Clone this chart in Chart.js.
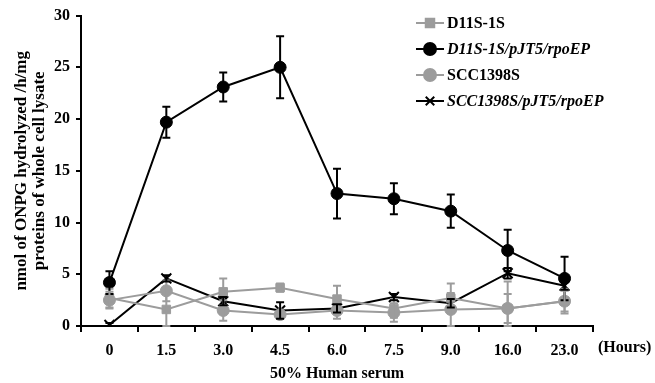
<!DOCTYPE html>
<html>
<head>
<meta charset="utf-8">
<script src="https://cdn.jsdelivr.net/npm/chart.js@4/dist/chart.umd.min.js"></script>
<style>
  html, body { margin: 0; padding: 0; background: #fff; }
  #wrap { width: 655px; height: 383px; }
</style>
</head>
<body>
<div id="wrap"><canvas id="chart" width="655" height="383"></canvas></div>
<script>
// Sampling times (hours) in 50% human serum
const hours = ['0', '1.5', '3.0', '4.5', '6.0', '7.5', '9.0', '16.0', '23.0'];
const yTicks = [0, 5, 10, 15, 20, 25, 30];

// nmol ONPG hydrolyzed /h/mg protein, with SD
const d11s = [2.7, 1.6, 3.3, 3.7, 2.6, 1.7, 2.7, 1.7, 2.4];
const d11sErr = [0.9, 1.6, 1.3, 0.4, 1.3, 0.9, 1.4, 2.6, 1.2];
const d11sRpoE = [4.2, 19.7, 23.1, 25.0, 12.8, 12.3, 11.1, 7.3, 4.6];
const d11sRpoEErr = [1.1, 1.5, 1.4, 3.0, 2.4, 1.5, 1.6, 2.0, 2.1];
const scc = [2.5, 3.4, 1.5, 1.1, 1.5, 1.3, 1.6, 1.7, 2.4];
const sccErr = [0.8, 1.0, 1.0, 0.3, 0.8, 0.9, 1.6, 1.4, 1.0];
const sccRpoE = [0.1, 4.6, 2.4, 1.5, 1.7, 2.8, 2.2, 5.1, 3.9];
const sccRpoEErr = [0.2, 0.3, 0.4, 0.8, 0.4, 0.3, 0.4, 0.5, 0.4];

const GRAY = '#9c9c9c';
const BLACK = '#000';
const FONT = "'Liberation Serif', 'Times New Roman', serif";

const seriesList = [
  { label: 'D11S-1S', data: d11s, err: d11sErr, color: GRAY, point: 'rect', radius: 6, italic: false },
  { label: 'D11S-1S/pJT5/rpoEP', data: d11sRpoE, err: d11sRpoEErr, color: BLACK, point: 'circle', radius: 6, italic: true },
  { label: 'SCC1398S', data: scc, err: sccErr, color: GRAY, point: 'circle', radius: 6, italic: false },
  { label: 'SCC1398S/pJT5/rpoEP', data: sccRpoE, err: sccRpoEErr, color: BLACK, point: 'crossRot', radius: 7, italic: true }
];

// error bars drawn from the scales
const errorBars = {
  id: 'errorBars',
  afterDatasetsDraw(chart) {
    const ctx = chart.ctx;
    const x = chart.scales.x, y = chart.scales.y;
    ctx.save();
    chart.data.datasets.forEach((ds, di) => {
      const s = seriesList[di];
      ctx.strokeStyle = s.color;
      ctx.lineWidth = 2;
      ds.data.forEach((v, i) => {
        const px = x.getPixelForValue(i);
        const top = y.getPixelForValue(v + s.err[i]);
        const bot = y.getPixelForValue(Math.max(0, v - s.err[i]));
        ctx.beginPath();
        ctx.moveTo(px, top); ctx.lineTo(px, bot);
        ctx.moveTo(px - 4, top); ctx.lineTo(px + 4, top);
        ctx.moveTo(px - 4, bot); ctx.lineTo(px + 4, bot);
        ctx.stroke();
      });
    });
    ctx.restore();
  }
};

// legend drawn inside the plot, top right
const customLegend = {
  id: 'customLegend',
  afterDraw(chart) {
    const ctx = chart.ctx;
    ctx.save();
    seriesList.forEach((s, i) => {
      const ly = 23 + i * 26;
      ctx.strokeStyle = s.color;
      ctx.fillStyle = s.color;
      ctx.lineWidth = 2;
      ctx.beginPath();
      ctx.moveTo(416, ly); ctx.lineTo(444, ly);
      ctx.stroke();
      Chart.helpers.drawPoint(ctx, { pointStyle: s.point, radius: 6, borderWidth: 2 }, 430, ly);
      ctx.fillStyle = BLACK;
      ctx.font = (s.italic ? 'italic ' : '') + 'bold 16px ' + FONT;
      ctx.textBaseline = 'middle';
      ctx.fillText(s.label, 447, ly + 1);
    });
    // (Hours) unit label beside x ticks
    ctx.font = 'bold 16px ' + FONT;
    ctx.textAlign = 'left';
    ctx.fillText('(Hours)', 598, 348);
    ctx.restore();
  }
};

new Chart(document.getElementById('chart'), {
  type: 'line',
  data: {
    labels: hours,
    datasets: seriesList.map(s => ({
      label: s.label,
      data: s.data,
      borderColor: s.color,
      backgroundColor: s.color,
      borderWidth: 2,
      pointStyle: s.point,
      pointRadius: s.radius,
      pointBorderWidth: s.point === 'crossRot' ? 2 : 1,
      tension: 0
    }))
  },
  options: {
    responsive: false,
    animation: false,
    layout: { padding: { top: 13, right: 62, left: 0, bottom: 0 } },
    plugins: {
      legend: { display: false },
      tooltip: { enabled: false }
    },
    scales: {
      x: {
        offset: true,
        grid: { offset: true, drawOnChartArea: false, tickLength: 6, color: BLACK, lineWidth: 2 },
        border: { color: BLACK, width: 2 },
        ticks: { color: BLACK, padding: 9, font: { family: FONT, size: 16, weight: 'bold' }, maxRotation: 0 },
        title: {
          display: true, text: '50% Human serum', color: BLACK,
          font: { family: FONT, size: 16, weight: 'bold' },
          padding: { top: 0, bottom: 0 }
        },
        afterFit(scale) { scale.height = 57; }
      },
      y: {
        min: 0, max: 30,
        afterBuildTicks(scale) { scale.ticks = yTicks.map(v => ({ value: v })); },
        grid: { drawOnChartArea: false, tickLength: 5, color: BLACK, lineWidth: 2 },
        border: { color: BLACK, width: 2 },
        ticks: { color: BLACK, padding: 6, font: { family: FONT, size: 16, weight: 'bold' } },
        title: {
          display: true,
          text: ['nmol of ONPG hydrolyzed /h/mg', 'proteins of whole cell lysate'],
          color: BLACK,
          font: { family: FONT, size: 17, weight: 'bold', lineHeight: 1.08 },
          padding: { top: 12, bottom: 0 }
        },
        afterFit(scale) { scale.width = 81; }
      }
    }
  },
  plugins: [errorBars, customLegend]
});
</script>
</body>
</html>
